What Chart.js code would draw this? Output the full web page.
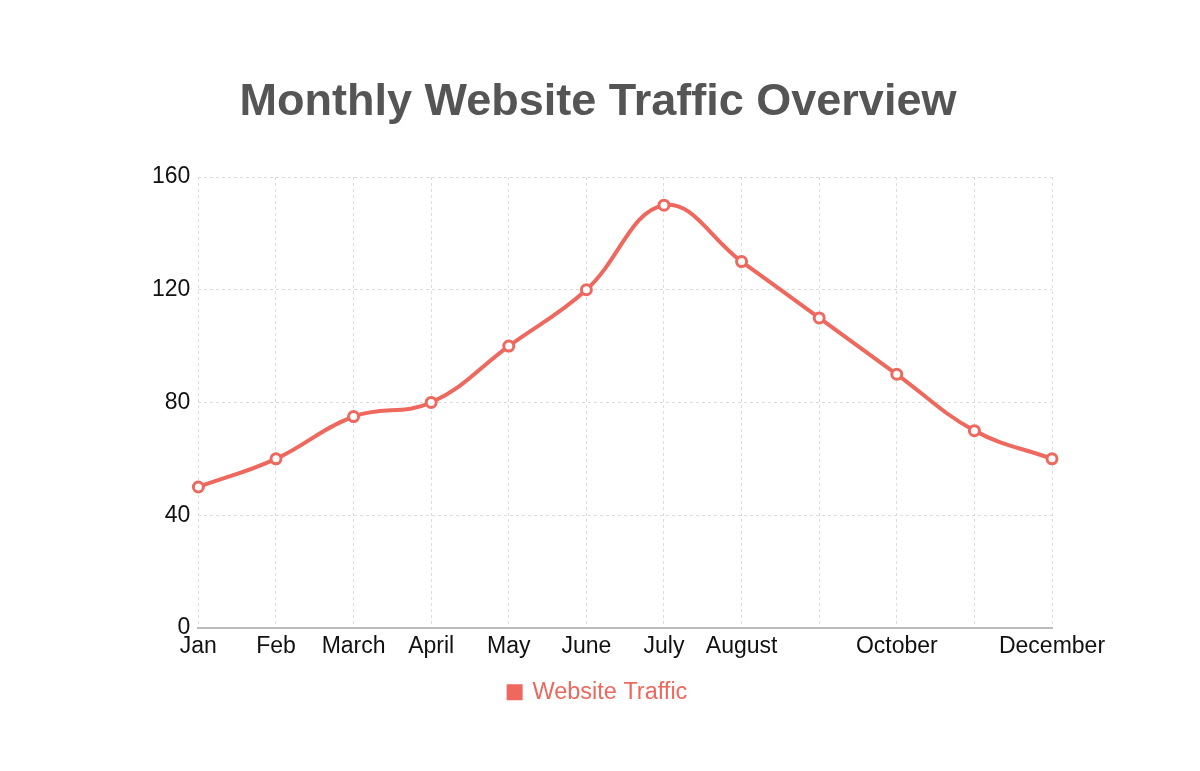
<!DOCTYPE html>
<html>
<head>
<meta charset="utf-8">
<script src="https://cdn.jsdelivr.net/npm/chart.js@4"></script>
<style>
  html, body { margin: 0; padding: 0; background: #fff; }
  #wrap { width: 1200px; height: 771px; }
</style>
</head>
<body>
<div id="wrap"><canvas id="chart"></canvas></div>
<script>
const months = ["Jan", "Feb", "March", "April", "May", "June", "July", "August", "September", "October", "November", "December"];
// labels actually shown under the axis (September / November are hidden in the original)
const tickLabels = ["Jan", "Feb", "March", "April", "May", "June", "July", "August", "", "October", "", "December"];
const traffic = [50, 60, 75, 80, 100, 120, 150, 130, 110, 90, 70, 60];
const yTicks = [0, 40, 80, 120, 160];

const red = "rgb(238, 104, 94)";
const font = "'Liberation Sans', Arial, sans-serif";

window.addEventListener("DOMContentLoaded", () => {
  Chart.defaults.font.family = font;
  const ctx = document.getElementById("chart").getContext("2d");
  new Chart(ctx, {
    type: "line",
    data: {
      labels: months,
      datasets: [{
        label: "Website Traffic",
        data: traffic,
        borderColor: red,
        backgroundColor: red,
        borderWidth: 4,
        tension: 0.4,
        pointRadius: 5,
        pointBorderWidth: 3,
        pointBackgroundColor: "#fff",
        pointBorderColor: red,
        fill: false
      }]
    },
    options: {
      responsive: true,
      maintainAspectRatio: false,
      animation: false,
      layout: { padding: { left: 144, right: 148, top: 0, bottom: 57 } },
      plugins: {
        title: {
          display: true,
          text: "Monthly Website Traffic Overview",
          color: "#555",
          font: { family: font, size: 45, weight: "bold" },
          padding: { top: 76, bottom: 47 }
        },
        legend: {
          position: "bottom",
          labels: {
            boxWidth: 12,
            boxHeight: 12,
            color: red,
            padding: 15,
            font: { family: font, size: 23.5 }
          }
        },
        tooltip: { enabled: false }
      },
      scales: {
        x: {
          grid: { color: "#ddd", drawTicks: false },
          border: { display: true, color: "#bbb", width: 2, dash: [3, 3] },
          ticks: {
            color: "#111",
            padding: 5,
            autoSkip: false,
            maxRotation: 0,
            font: { family: font, size: 23 },
            callback: (v, i) => tickLabels[i]
          }
        },
        y: {
          min: yTicks[0],
          max: yTicks[yTicks.length - 1],
          grid: { color: "#ddd", drawTicks: false },
          border: { display: false, dash: [3, 3] },
          ticks: {
            stepSize: yTicks[1] - yTicks[0],
            color: "#111",
            padding: 8,
            font: { family: font, size: 23 }
          }
        }
      }
    }
  });
});
</script>
</body>
</html>
